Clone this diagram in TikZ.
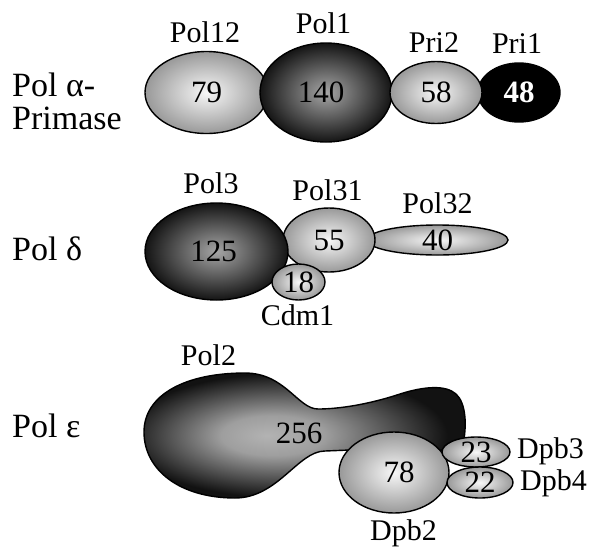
\documentclass[tikz,border=0pt]{standalone}
\usepackage{fontspec}
\setmainfont{Liberation Serif}
\usetikzlibrary{shapes.geometric}
\pgfdeclareradialshading{blobshade}{\pgfpoint{-6bp}{0bp}}{color(0bp)=(black!30); color(8bp)=(black!38); color(25bp)=(black!93); color(50bp)=(black!93)}
\begin{document}
\begin{tikzpicture}[x=1pt,y=-1pt,
  blob/.style={draw=black, line width=1.4pt, ellipse, inner sep=0pt},
  light/.style={blob, shading=radial, inner color=black!3, outer color=black!40},
  dark/.style={blob, shading=radial, inner color=black!35, outer color=black!92},
  num/.style={font=\fontsize{31}{32}\selectfont},
  lab/.style={font=\fontsize{30}{31}\selectfont, inner sep=0pt, anchor=base},
  ttl/.style={font=\fontsize{34}{31}\selectfont, inner sep=0pt, anchor=base west}]
\useasboundingbox (0,0) rectangle (589,547);
% ---------- Pol alpha - primase
\node[ttl] (tA1) at (12,96) {Pol α-};
\node[ttl] (tA2) at (12,129) {Primase};
\node[light, minimum width=123, minimum height=82, num] (e79) at (206.5,92.5) {79};
\node[dark, minimum width=132, minimum height=99, num] (e140) at (326,92.5) {\hspace*{-10pt}140};
\node[blob, fill=black, minimum width=82, minimum height=59, text=white, font=\fontsize{31}{32}\selectfont\bfseries] (e48) at (519,92.5) {48};
\node[light, minimum width=92, minimum height=62, num] (e58) at (436,92.5) {58};
\node[lab] (l12) at (205,42) {Pol12};
\node[lab] (l1) at (323.5,33) {Pol1};
\node[lab] (lp2) at (434,52) {Pri2};
\node[lab] (lp1) at (517,53) {Pri1};
% ---------- Pol delta
\node[ttl] (tD) at (12,260) {Pol δ};
\node[light, minimum width=141, minimum height=30, num] (e40) at (437.5,240) {40};
\node[light, minimum width=92, minimum height=64, num] (e55) at (329,240) {55};
\node[dark, minimum width=143, minimum height=97, num] (e125) at (216.5,251.5) {\hspace*{-6pt}125};
\node[light, minimum width=53, minimum height=36, num] (e18) at (298.5,282) {18};
\node[lab] (l3) at (211,193) {Pol3};
\node[lab] (l31) at (327.5,200) {Pol31};
\node[lab] (l32) at (437.5,213) {Pol32};
\node[lab] (lc) at (297.5,325) {Cdm1};
% ---------- Pol epsilon
\node[ttl] (tE) at (12,437) {Pol ε};
\path[draw=black, line width=1.4pt, shading=blobshade]
  (318,409) .. controls (298,409) and (285,373) .. (245,373)
  .. controls (185,373) and (144,395) .. (144,432)
  .. controls (144,470) and (180,498) .. (235,498)
  .. controls (278,498) and (298,451) .. (325,451)
  -- (350,450)
  .. controls (400,450) and (440,455) .. (463,445)
  .. controls (467,425) and (466,403) .. (456,394)
  .. controls (446,385) and (425,386) .. (400,394)
  .. controls (370,404) and (340,409) .. (318,409) -- cycle;
\node[num] (t256) at (299,433) {256};
\node[light, minimum width=110, minimum height=81, num] (e78) at (394,472.5) {\hspace*{10pt}78};
\node[light, minimum width=68, minimum height=30, num] (e23) at (476,452) {23};
\node[light, minimum width=66, minimum height=31, num] (e22) at (480,482.5) {22};
\node[lab] (l2) at (208.5,365) {Pol2};
\node[lab] (ld2) at (403.5,540) {Dpb2};
\node[lab, anchor=base west] (ld3) at (517,458) {Dpb3};
\node[lab, anchor=base west] (ld4) at (520,490) {Dpb4};
\end{tikzpicture}
\end{document}
